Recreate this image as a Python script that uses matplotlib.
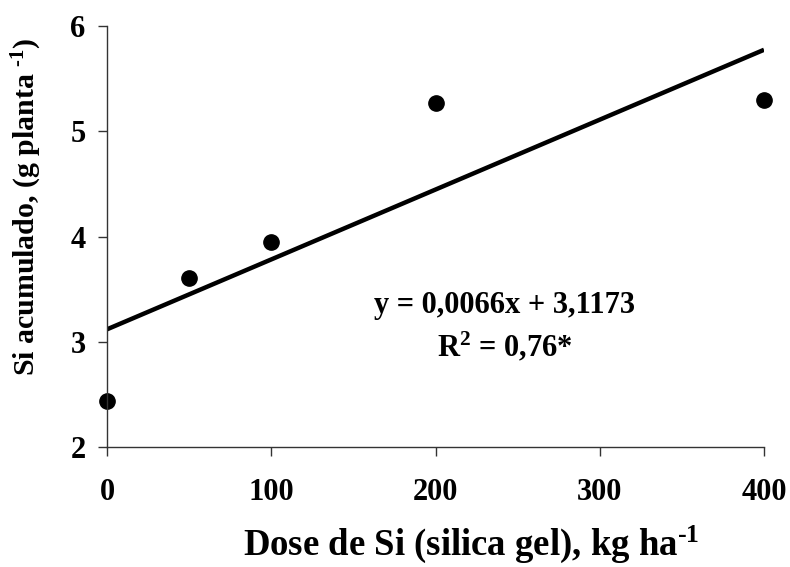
import numpy as np
import matplotlib
matplotlib.use("Agg")
import matplotlib.pyplot as plt

plt.rcParams['font.family'] = ['Liberation Serif', 'DejaVu Serif']
plt.rcParams['font.weight'] = 'bold'
plt.rcParams['mathtext.fontset'] = 'custom'
plt.rcParams['mathtext.rm'] = 'Liberation Serif:bold'
plt.rcParams['mathtext.bf'] = 'Liberation Serif:bold'
plt.rcParams['mathtext.it'] = 'Liberation Serif:bold'
plt.rcParams['mathtext.default'] = 'bf'

dose = [0, 50, 100, 200, 400]
si_acum = [2.44, 3.61, 3.95, 5.27, 5.30]
x_ticks = [0, 100, 200, 300, 400]
y_ticks = [2, 3, 4, 5, 6]
eq_text = "y = 0,0066x + 3,1173"
r2_text = "R$^{2}$ = 0,76*"
xlabel = "Dose de Si (silica gel), kg ha$^{\\text{-}1}$"
ylabel = "Si acumulado, (g planta $^{\\text{-}1}$)"

fig = plt.figure(figsize=(7.9, 5.67), dpi=100)
ax = fig.add_axes([107/790, 1-447/567, (764-107)/790, (447-26)/567])

slope, intercept = np.polyfit(dose, si_acum, 1)
xl = np.array([min(dose), max(dose)])
ax.plot(xl, slope*xl + intercept, color='black', lw=3.2, solid_capstyle='butt')
ax.plot(dose, si_acum, 'o', color='black', ms=11, clip_on=False)

ax.set_xlim(0, 400)
ax.set_ylim(2, 6)
ax.set_xticks(x_ticks)
ax.set_yticks(y_ticks)
for s in ['top', 'right']:
    ax.spines[s].set_visible(False)
for s in ['left', 'bottom']:
    ax.spines[s].set_color('#333333')
    ax.spines[s].set_linewidth(1.0)
ax.tick_params(axis='both', direction='out', length=6.5, width=1.0, color='#333333',
               labelsize=22)
ax.tick_params(axis='x', pad=16)
ax.tick_params(axis='y', pad=9)
for lab in ax.get_xticklabels() + ax.get_yticklabels():
    lab.set_fontweight('bold')

ax.set_xlabel(xlabel, fontsize=26.5, fontweight='bold', va='baseline', ha='center')
ax.xaxis.set_label_coords((471-107)/657, (447-555)/421)
ax.set_ylabel(ylabel, fontsize=21.5, fontweight='bold', va='center', ha='center')
ax.yaxis.set_label_coords((27-107)/657, (447-207)/421)

ax.text(0.605, (6 - (305-26)/105.25 - 2)/4, eq_text, transform=ax.transAxes,
        ha='center', va='center', fontsize=22, fontweight='bold')
ax.text(0.605, (6 - (347-26)/105.25 - 2)/4, r2_text, transform=ax.transAxes,
        ha='center', va='center', fontsize=22, fontweight='bold')

fig.savefig("out.png", dpi=100)
